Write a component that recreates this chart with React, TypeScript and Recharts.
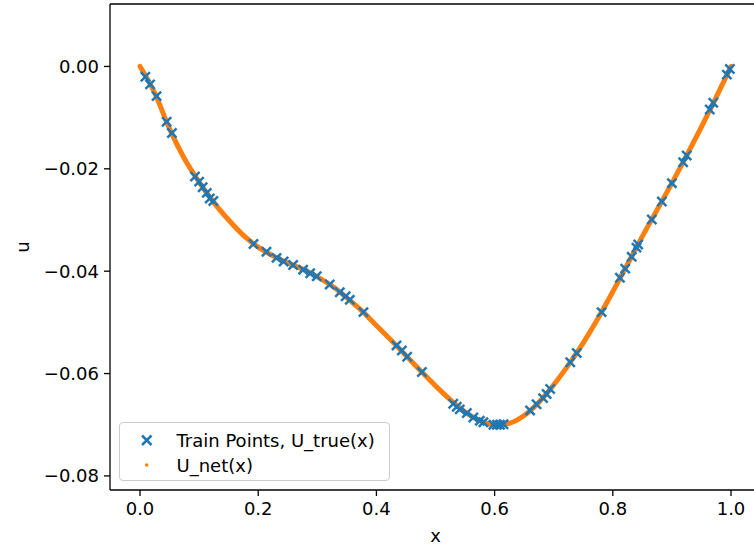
import React from 'react';
import { ComposedChart, Scatter, Line, XAxis, YAxis, ReferenceLine } from 'recharts';

const X_DOMAIN: [number, number] = [-0.0508, 1.0389];
const Y_DOMAIN: [number, number] = [-0.08275, 0.0122];
const X_TICKS = [0, 0.2, 0.4, 0.6, 0.8, 1.0];
const Y_TICKS = [0, -0.02, -0.04, -0.06, -0.08];

const LEGEND_LABELS = ['Train Points, U_true(x)', 'U_net(x)'];
const BLUE = '#1f77b4';
const ORANGE = '#ff7f0e';

const NET_X = [
  0, 0.025, 0.05, 0.075, 0.1, 0.125, 0.15, 0.175, 0.2, 0.225, 0.25, 0.275, 0.3, 0.325, 0.35,
  0.375, 0.4, 0.425, 0.45, 0.475, 0.5, 0.525, 0.55, 0.575, 0.6, 0.625, 0.65, 0.675, 0.7, 0.725,
  0.75, 0.775, 0.8, 0.825, 0.85, 0.875, 0.9, 0.925, 0.95, 0.975, 1.0,
];
const NET_U = [
  0.0, -0.0052, -0.0122, -0.018, -0.0226, -0.0266, -0.03, -0.033, -0.0353, -0.037, -0.0384,
  -0.0396, -0.0411, -0.0429, -0.0452, -0.0477, -0.0506, -0.0535, -0.0565, -0.0595, -0.0624,
  -0.0651, -0.0675, -0.0692, -0.07, -0.0697, -0.0682, -0.0656, -0.0622, -0.0583, -0.054,
  -0.0492, -0.044, -0.0386, -0.0332, -0.028, -0.0228, -0.0174, -0.0118, -0.006, 0.0,
];

const TRAIN_X = [
  0.009, 0.017, 0.028, 0.045, 0.054, 0.093, 0.1, 0.106, 0.113, 0.118, 0.124, 0.192, 0.214,
  0.231, 0.243, 0.259, 0.276, 0.288, 0.299, 0.321, 0.338, 0.348, 0.355, 0.378, 0.434, 0.443,
  0.452, 0.477, 0.53, 0.536, 0.541, 0.553, 0.564, 0.575, 0.581, 0.598, 0.604, 0.609, 0.615,
  0.66, 0.671, 0.682, 0.688, 0.694, 0.728, 0.739, 0.781, 0.812, 0.821, 0.832, 0.84, 0.843,
  0.866, 0.883, 0.9, 0.919, 0.925, 0.964, 0.97, 0.993, 0.998,
];
const TRAIN_U = [
  -0.002, -0.0035, -0.0058, -0.0108, -0.013, -0.0215, -0.0225, -0.0236, -0.0247, -0.0258,
  -0.0263, -0.0347, -0.0362, -0.0374, -0.0381, -0.0388, -0.0397, -0.0404, -0.041, -0.0426,
  -0.0441, -0.0449, -0.0456, -0.048, -0.0545, -0.0555, -0.0567, -0.0597, -0.0659, -0.0665,
  -0.067, -0.0677, -0.0686, -0.0692, -0.0695, -0.07, -0.07, -0.07, -0.0699, -0.0672, -0.066,
  -0.0648, -0.064, -0.063, -0.0578, -0.056, -0.048, -0.0413, -0.0395, -0.0372, -0.0354,
  -0.0348, -0.0299, -0.0264, -0.0228, -0.0187, -0.0174, -0.0084, -0.0071, -0.0016, -0.0005,
];

const netData = NET_X.map((x, i) => ({ x, u: NET_U[i] }));
const trainData = TRAIN_X.map((x, i) => ({ x, u: TRAIN_U[i] }));

const FONT = '"DejaVu Sans", sans-serif';
const fmtY = (v: number) => {
  const s = Math.abs(v).toFixed(2);
  return v < -1e-9 ? '\u2212' + s : s;
};

const XMark = (props: any) => {
  const { cx, cy } = props;
  if (cx == null || cy == null) return null;
  const r = 4.6;
  return (
    <g stroke={BLUE} strokeWidth={2.5}>
      <line x1={cx - r} y1={cy - r} x2={cx + r} y2={cy + r} />
      <line x1={cx - r} y1={cy + r} x2={cx + r} y2={cy - r} />
    </g>
  );
};

const YLabel = (props: any) => {
  const vb = props.viewBox || {};
  const x = 22;
  const y = vb.y + vb.height / 2;
  return (
    <text x={x} y={y} transform={`rotate(-90, ${x}, ${y})`} textAnchor="middle" dominantBaseline="central" fontSize={18} fill="#000">
      u
    </text>
  );
};

const XLabel = (props: any) => {
  const vb = props.viewBox || {};
  const x = 435.5;
  return (
    <text x={x} y={vb.y + vb.height - 3} textAnchor="middle" fontSize={18} fill="#000">
      x
    </text>
  );
};

export default function App() {
  return (
    <div style={{ position: 'absolute', left: 0, top: 0, width: 754, height: 545, overflow: 'hidden', background: '#fff', fontFamily: FONT }}>
      <ComposedChart width={754} height={545} margin={{ top: 4, right: 0, bottom: 0, left: 0 }}>
        <XAxis
          type="number"
          dataKey="x"
          domain={X_DOMAIN}
          ticks={X_TICKS}
          allowDataOverflow
          height={55}
          tickSize={6}
          tickMargin={6}
          tickFormatter={(v: number) => v.toFixed(1)}
          tick={{ fontSize: 18, fill: '#000' }}
          axisLine={{ stroke: '#000', strokeWidth: 1.3 }}
          tickLine={{ stroke: '#000', strokeWidth: 1.3 }}
          label={<XLabel />}
        />
        <YAxis
          type="number"
          dataKey="u"
          domain={Y_DOMAIN}
          ticks={Y_TICKS}
          allowDataOverflow
          width={110}
          tickSize={6}
          tickMargin={5}
          tickFormatter={fmtY}
          tick={{ fontSize: 18, fill: '#000' }}
          axisLine={{ stroke: '#000', strokeWidth: 1.3 }}
          tickLine={{ stroke: '#000', strokeWidth: 1.3 }}
          label={<YLabel />}
        />
        <ReferenceLine y={Y_DOMAIN[1]} stroke="#000" strokeWidth={1.3} />
        <Scatter name={LEGEND_LABELS[0]} data={trainData} dataKey="u" fill={BLUE} shape={<XMark />} isAnimationActive={false} />
        <Line
          name={LEGEND_LABELS[1]}
          data={netData}
          dataKey="u"
          type="monotone"
          stroke={ORANGE}
          strokeWidth={5}
          strokeLinecap="round"
          dot={false}
          activeDot={false}
          isAnimationActive={false}
        />
      </ComposedChart>
      <div style={{ position: 'absolute', left: 746, top: 6, width: 8, height: 482, background: '#fff' }} />
      <div
        style={{
          position: 'absolute',
          left: 119,
          top: 422,
          width: 271,
          height: 59,
          boxSizing: 'border-box',
          border: '1px solid #cccccc',
          borderRadius: 4,
          background: 'rgba(255,255,255,0.8)',
        }}
      >
        <svg width={269} height={57} style={{ display: 'block' }}>
          <g stroke={BLUE} strokeWidth={2.5}>
            <line x1={22} y1={12.5} x2={31.5} y2={22} />
            <line x1={22} y1={22} x2={31.5} y2={12.5} />
          </g>
          <text x={56.5} y={17} dominantBaseline="central" fontSize={18} fill="#000">{LEGEND_LABELS[0]}</text>
          <circle cx={26.7} cy={42} r={1.8} fill={ORANGE} />
          <text x={56.5} y={42} dominantBaseline="central" fontSize={18} fill="#000">{LEGEND_LABELS[1]}</text>
        </svg>
      </div>
    </div>
  );
}
